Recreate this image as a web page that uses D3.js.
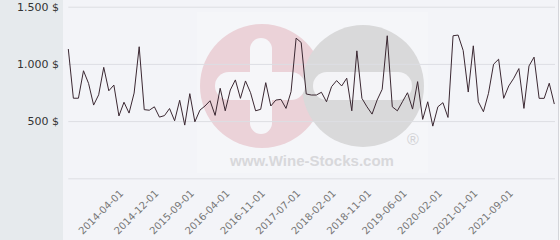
<!DOCTYPE html>
<html><head><meta charset="utf-8">
<script src="https://cdn.jsdelivr.net/npm/d3@7/dist/d3.min.js"></script>
<style>html,body{margin:0;padding:0;background:#fff;}svg{display:block;}</style>
</head><body>
<svg id="c" width="560" height="240"></svg>
<script>
const values = [1130,700,700,940,830,640,730,970,765,815,
  545,665,570,745,1150,600,595,625,535,548,
  610,503,682,465,740,494,596,632,678,550,
  787,590,772,860,699,851,748,590,603,836,
  632,684,690,611,757,1225,1187,737,728,728,
  752,669,801,854,807,875,590,1114,699,625,
  561,684,778,1246,625,590,669,748,605,845,
  515,669,456,625,661,532,1246,1252,1117,754,
  1158,669,582,743,997,1041,699,807,875,959,
  611,982,1059,699,699,831,649];
const tickLabels = ["2014-04-01","2014-12-01","2015-09-01","2016-04-01","2016-11-01","2017-07-01",
  "2018-02-01","2018-11-01","2019-06-01","2020-02-01","2021-01-01","2021-09-01"];
const yTicks = [500,1000,1500];
const gridValues = [0,500,1000,1500];

const svg = d3.select("#c");
const W = 560, H = 240;
svg.append("rect").attr("x",0).attr("y",0).attr("width",W).attr("height",H).attr("fill","#f3f4f8");
svg.append("rect").attr("x",0).attr("y",0).attr("width",63).attr("height",H).attr("fill","#e6eaed");
svg.append("line").attr("x1",558.5).attr("x2",558.5).attr("y1",0).attr("y2",H).attr("stroke","#d4d5da");
svg.append("rect").attr("x",559).attr("y",0).attr("width",1).attr("height",H).attr("fill","#fafafa");

const x = d3.scalePoint().domain(d3.range(values.length)).range([68.3,554.3]);
const y = d3.scaleLinear().domain([0,1500]).range([178.3,6.7]);

// watermark
const wm = svg.append("g");
wm.append("rect").attr("x",197).attr("y",12).attr("width",231).attr("height",161).attr("fill","#ffffff").attr("opacity",0.22);
wm.append("circle").attr("cx",262).attr("cy",86).attr("r",62).attr("fill","#ebd2d8");
wm.append("circle").attr("cx",363).attr("cy",86).attr("r",61).attr("fill","#d9d9da");
wm.append("rect").attr("x",250).attr("y",38).attr("width",22).attr("height",96).attr("rx",11).attr("fill","#f6f6f9");
wm.append("rect").attr("x",215).attr("y",72).attr("width",90).attr("height",28).attr("rx",14).attr("fill","#f6f6f9");
wm.append("rect").attr("x",313).attr("y",72).attr("width",99).attr("height",28).attr("rx",14).attr("fill","#f4f4f7");
wm.append("text").attr("x",413).attr("y",145).attr("text-anchor","middle").attr("font-family","Liberation Sans, Arial").attr("font-size",16).attr("fill","#d2d2d5").text("®");
wm.append("text").attr("x",230).attr("y",166).attr("textLength",164).attr("lengthAdjust","spacingAndGlyphs")
  .attr("font-family","Liberation Sans, Arial").attr("font-weight","bold").attr("font-size",15).attr("fill","#d8d8db").text("www.Wine-Stocks.com");

// grid
const grid = svg.append("g").attr("transform","translate(68.3,0)")
  .call(d3.axisLeft(y).tickValues(gridValues).tickSize(-(554.3-68.3+0.7)).tickFormat(""));
grid.select(".domain").remove();
grid.selectAll(".tick line").attr("stroke","#dddee3");

// y labels
const loc = d3.formatLocale({decimal:",",thousands:".",grouping:[3],currency:["",""]});
const fmt = loc.format(",");
const ya = svg.append("g").attr("transform","translate(59,0)")
  .call(d3.axisLeft(y).tickValues(yTicks).tickSize(0).tickPadding(0).tickFormat(d=>fmt(d)+" $"));
ya.select(".domain").remove();
ya.selectAll("text").attr("font-family","DejaVu Sans").attr("font-size",11).attr("fill","#333").attr("dy","0.3em");

// line
svg.append("path").datum(values)
  .attr("d", d3.line().x((d,i)=>x(i)).y(d=>y(d)))
  .attr("fill","none").attr("stroke","#3b2832").attr("stroke-width",1);

// x labels
const tickIdx = tickLabels.map((_,i)=>10+7*i);
const xa = svg.append("g").attr("transform","translate(4.5,194)")
  .call(d3.axisBottom(x).tickValues(tickIdx).tickSize(0).tickPadding(0).tickFormat((d,i)=>tickLabels[i]));
xa.select(".domain").remove();
xa.selectAll("text").attr("font-family","DejaVu Sans").attr("font-size",10).attr("fill","#777")
  .attr("text-anchor","end").attr("dy",0).attr("y",0).attr("transform","rotate(-45)");
</script>
</body></html>
